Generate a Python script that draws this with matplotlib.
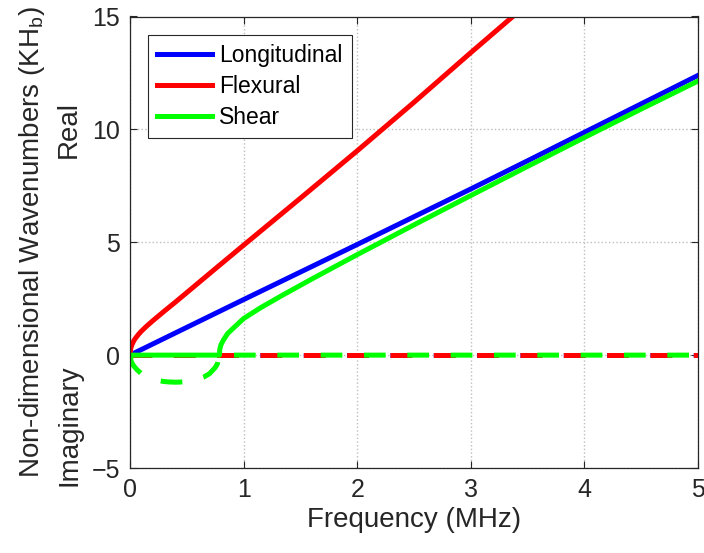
import matplotlib
matplotlib.use("Agg")
from matplotlib import pyplot as plt
import matplotlib.transforms as mtransforms

plt.rcParams['font.family'] = ['Liberation Sans', 'DejaVu Sans']
plt.rcParams['lines.scale_dashes'] = False

# frequency (MHz) and wavenumber values
f_long = [0, 0.5, 1.0, 1.5, 2.0, 2.5, 3.0, 3.5, 4.0, 4.5, 5.0]
k_long_re = [0, 1.23, 2.46, 3.68, 4.9, 6.13, 7.36, 8.61, 9.87, 11.13, 12.39]
k_long_im = [0] * len(f_long)

f_flex = [0, 0.005, 0.01, 0.02, 0.035, 0.05, 0.075, 0.1, 0.15, 0.2, 0.3, 0.4, 0.5,
          0.74, 1.0, 1.5, 2.0, 2.5, 3.0, 3.37]
k_flex_re = [0, 0.25, 0.36, 0.5, 0.65, 0.76, 0.92, 1.06, 1.3, 1.52, 1.94, 2.35, 2.77,
             3.78, 4.87, 6.95, 9.05, 11.2, 13.4, 15.0]
f_flex_im = [0, 5.0]
k_flex_im = [0, 0]

f_shear = [0, 0.787, 0.79, 0.8, 0.82, 0.86, 0.9, 1.0, 1.15, 1.33, 1.6, 2.0, 2.5, 3.0,
           3.5, 4.0, 4.5, 5.0]
k_shear_re = [0, 0, 0.25, 0.45, 0.65, 0.96, 1.15, 1.62, 2.1, 2.62, 3.37, 4.45, 5.77, 7.07,
              8.36, 9.64, 10.9, 12.14]
f_shear_im = [0, 0.01, 0.03, 0.06, 0.1, 0.15, 0.2, 0.25, 0.3, 0.35, 0.4, 0.45, 0.5,
              0.55, 0.6, 0.65, 0.7, 0.75, 0.77, 0.787, 5.0]
k_shear_im = [0, -0.27, -0.46, -0.64, -0.82, -0.97, -1.06, -1.13, -1.17, -1.19, -1.2, -1.19,
              -1.17, -1.13, -1.06, -0.97, -0.82, -0.55, -0.38, 0, 0]

lw = 3.6
dash = (15.6, 15.6)
blue = (0, 0, 1)
red = (1, 0, 0)
green = (0, 1, 0)
ink = '#262626'

fig = plt.figure(figsize=(7.04, 5.53), dpi=100)
ax = fig.add_axes([130 / 704, 1 - 468 / 553, 568 / 704, 451.5 / 553])

ax.plot(f_long, k_long_re, color=blue, lw=lw, label='Longitudinal')
ax.plot(f_long, k_long_im, color=blue, lw=lw, dashes=dash)
ax.plot(f_flex, k_flex_re, color=red, lw=lw, label='Flexural')
ax.plot(f_flex_im, k_flex_im, color=red, lw=lw, dashes=dash)
ax.plot(f_shear, k_shear_re, color=green, lw=lw, label='Shear')
ax.plot(f_shear_im, k_shear_im, color=green, lw=lw, dashes=dash)

ax.set_xlim(0, 5)
ax.set_ylim(-5, 15)
ax.set_xticks([0, 1, 2, 3, 4, 5])
ax.set_yticks([-5, 0, 5, 10, 15])
ax.grid(True, color='#bdbdbd', linestyle=':', linewidth=1.0)
ax.set_axisbelow(True)
ax.tick_params(direction='in', length=5, width=0.8, labelsize=18, colors=ink,
               top=True, right=True, pad=7)
for s in ax.spines.values():
    s.set_color(ink)
    s.set_linewidth(0.9)

ax.set_xlabel('Frequency (MHz)', fontsize=20, color=ink)
ax.set_ylabel('Non-dimensional Wavenumbers (KH$_\\mathregular{b}$)', fontsize=20,
              color=ink, labelpad=32)

trans = mtransforms.blended_transform_factory(ax.transAxes, ax.transData)
ax.text(-0.107, 10.0, 'Real', rotation=90, ha='center', va='center', fontsize=20,
        color=ink, transform=trans)
ax.text(-0.107, -3.1, 'Imaginary', rotation=90, ha='center', va='center', fontsize=20,
        color=ink, transform=trans)

leg = ax.legend(loc='upper left', bbox_to_anchor=(0.032, 0.96), borderaxespad=0,
                fontsize=16.5, handlelength=2.4, handletextpad=0.3, labelspacing=0.35,
                fancybox=False, framealpha=1, edgecolor=ink, borderpad=0.4)
leg.get_frame().set_linewidth(0.8)

fig.savefig('out.png', dpi=100)
